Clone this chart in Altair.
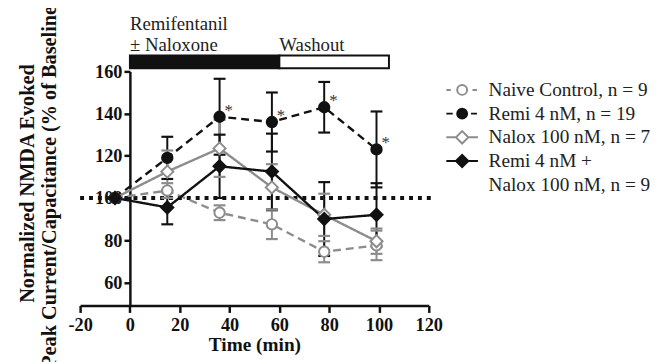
import altair as alt
import pandas as pd

# ---------------- data ----------------
series = ["Naive Control, n = 9", "Remi 4 nM, n = 19", "Nalox 100 nM, n = 7",
          "Remi 4 nM +|Nalox 100 nM, n = 9"]
times = [-6, 15, 36, 57, 78, 99]
naive_mean = [100, 103.5, 93, 87.5, 74.5, 77.5]
naive_sem = [0, 3.5, 3.5, 7, 5, 7]
remi_mean = [100, 119, 138.5, 136, 143, 123]
remi_sem = [0, 10, 18, 14, 12, 18]
nalox_mean = [100, 112.5, 123.5, 105, 92, 79.5]
nalox_sem = [0, 10, 13.5, 11, 10, 6]
rn_mean = [100, 95.5, 115, 112.5, 90, 92]
rn_sem = [0, 8, 15, 18, 17.5, 15]
signif_times = [36, 57, 78, 99]          # Remi points marked with *

phase_names = ["Remifentanil ± Naloxone", "Washout"]
phase_start = [0, 60]
phase_end = [60, 104]
phase_low = [161.5, 161.5]
phase_high = [167.5, 167.5]
header_lines = ["Remifentanil", "± Naloxone", "Washout"]
header_x = [0, 0, 60]
header_y = [179.5, 169.8, 169.8]
baseline_value = [100]
baseline_from = [-20]
baseline_to = [121]

x_ticks = [-20, 0, 20, 40, 60, 80, 100, 120]
y_ticks = [60, 80, 100, 120, 140, 160]

# ---------------- tables ----------------
means = [naive_mean, remi_mean, nalox_mean, rn_mean]
sems = [naive_sem, remi_sem, nalox_sem, rn_sem]
rows = []
for s, m, e in zip(series, means, sems):
    for t, mv, ev in zip(times, m, e):
        rows.append({"series": s, "t": t, "mean": mv, "lo": mv - ev, "hi": mv + ev})
df = pd.DataFrame(rows)
stars = df[(df["series"] == series[1]) & (df["t"].isin(signif_times))].copy()
stars["star"] = "*"
phases = pd.DataFrame({"phase": phase_names, "start": phase_start, "end": phase_end,
                       "low": phase_low, "high": phase_high})
header = pd.DataFrame({"text": header_lines, "t": header_x, "y": header_y})
base = pd.DataFrame({"x0": baseline_from, "x1": baseline_to, "y": baseline_value})

# ---------------- styles ----------------
GRAY = "#8c8c8c"
BLACK = "#111111"
STROKES = [GRAY, BLACK, GRAY, BLACK]
FILLS = ["white", BLACK, "white", BLACK]
DASHES = [[8, 5], [8, 5], [1, 0], [1, 0]]
SERIF = "Liberation Serif"

circ = "M-1,0A1,1,0,1,0,1,0A1,1,0,1,0,-1,0Z"
diam = "M-1.25,0L0,-1.25L1.25,0L0,1.25Z"
LEGEND_PATHS = [
    "M-3.2,0L-2.3,0M2.1,0L3,0" + circ,
    "M-3.2,0L-1.9,0M1.8,0L3,0" + circ,
    "M-3.2,0L-1.25,0M1.25,0L3.2,0" + diam,
    "M-3.2,0L-1.25,0M1.25,0L3.2,0" + diam,
]

xscale = alt.Scale(domain=[-20, 120], nice=False, zero=False)
yscale = alt.Scale(domain=[49, 160], nice=False, zero=False)
xaxis = alt.Axis(values=x_ticks, title="Time (min)", grid=False, offset=0,
                 labelExpr="toString(datum.value)",
                 labelFont=SERIF, labelFontWeight="bold", labelFontSize=18.5, labelColor=BLACK,
                 labelPadding=3, tickSize=7, tickWidth=2.5, tickColor=BLACK,
                 domainWidth=2.5, domainColor=BLACK, labelFlush=False,
                 titleFont=SERIF, titleFontWeight="bold", titleFontSize=19.5, titleColor=BLACK,
                 titlePadding=2)
yaxis = alt.Axis(values=y_ticks, grid=False, offset=-50.4,
                 title=["Normalized NMDA Evoked", "Peak Current/Capacitance (% of Baseline)"],
                 labelFont=SERIF, labelFontWeight="bold", labelFontSize=18.5, labelColor=BLACK,
                 labelPadding=2, tickSize=6, tickWidth=2.5, tickColor=BLACK,
                 domainWidth=2.5, domainColor=BLACK, labelFlush=False,
                 titleFont=SERIF, titleFontWeight="bold", titleFontSize=20.5, titleColor=BLACK,
                 titleLineHeight=23, titleBaseline="alphabetic", titleAngle=270,
                 titleX=-98, titleY=113, titleAlign="center")


def X(field):
    return alt.X(field, type="quantitative", scale=xscale, axis=xaxis)


def Y(field):
    return alt.Y(field, type="quantitative", scale=yscale, axis=yaxis)


def stroke_enc():
    return alt.Stroke("series:N", scale=alt.Scale(domain=series, range=STROKES), legend=None)


def fill_enc():
    return alt.Fill("series:N", scale=alt.Scale(domain=series, range=FILLS), legend=None)


# dotted 100% line
baseline = alt.Chart(base).mark_rule(color=BLACK, strokeWidth=4, strokeDash=[4, 5]).encode(
    x=X("x0"), x2="x1", y=Y("y"))

# error bars
err = alt.Chart(df).mark_rule(strokeWidth=2).encode(
    x=X("t"), y=Y("lo"), y2="hi", stroke=stroke_enc(), detail="series:N")
cap_lo = alt.Chart(df).mark_point(shape="stroke", size=144, strokeWidth=2.2, opacity=1).encode(
    x=X("t"), y=Y("lo"), stroke=stroke_enc())
cap_hi = alt.Chart(df).mark_point(shape="stroke", size=144, strokeWidth=2.2, opacity=1).encode(
    x=X("t"), y=Y("hi"), stroke=stroke_enc())

# lines
lines = alt.Chart(df).mark_line(strokeWidth=2.4).encode(
    x=X("t"), y=Y("mean"), stroke=stroke_enc(),
    strokeDash=alt.StrokeDash("series:N", scale=alt.Scale(domain=series, range=DASHES), legend=None),
    detail="series:N")

# markers
circles = alt.Chart(df).transform_filter(
    alt.FieldOneOfPredicate(field="series", oneOf=series[:2])
).mark_point(shape="circle", size=110, strokeWidth=2, opacity=1).encode(
    x=X("t"), y=Y("mean"), stroke=stroke_enc(), fill=fill_enc())
diamonds = alt.Chart(df).transform_filter(
    alt.FieldOneOfPredicate(field="series", oneOf=series[2:])
).mark_point(shape="diamond", size=150, strokeWidth=2, opacity=1).encode(
    x=X("t"), y=Y("mean"), stroke=stroke_enc(), fill=fill_enc())

# significance asterisks
star_layer = alt.Chart(stars).mark_text(
    align="left", baseline="alphabetic", dx=5, dy=-1, font=SERIF, fontSize=17, color="#333333"
).encode(x=X("t"), y=Y("mean"), text="star:N")

# treatment bar on top
bar = alt.Chart(phases).mark_rect(stroke=BLACK, strokeWidth=2).encode(
    x=X("start"), x2="end", y=Y("low"), y2="high",
    fill=alt.Fill("phase:N", scale=alt.Scale(domain=phase_names, range=[BLACK, "white"]), legend=None))
head = alt.Chart(header).mark_text(
    align="left", baseline="alphabetic", font=SERIF, fontSize=19, color="#222222"
).encode(x=X("t"), y=Y("y"), text="text:N")

# legend-only layer (no data drawn)
legend = alt.Legend(title=None, orient="none", legendX=377, legendY=9,
                    labelFont=SERIF, labelFontSize=19.5, labelColor="#222222",
                    labelExpr="split(datum.label, '|')", labelLimit=400,
                    symbolSize=100, symbolStrokeWidth=2, labelOffset=17,
                    rowPadding=3, padding=0)
legend_layer = alt.Chart(df).transform_filter("false").mark_point(
    size=100, strokeWidth=2, opacity=1
).encode(
    x=X("t"), y=Y("mean"),
    shape=alt.Shape("series:N", scale=alt.Scale(domain=series, range=LEGEND_PATHS), legend=legend),
    stroke=alt.Stroke("series:N", scale=alt.Scale(domain=series, range=STROKES), legend=legend),
    fill=alt.Fill("series:N", scale=alt.Scale(domain=series, range=FILLS), legend=legend),
)

chart = alt.layer(
    baseline, err, cap_lo, cap_hi, lines, circles, diamonds, star_layer, bar, head, legend_layer
).resolve_scale(
    stroke="independent", fill="independent", shape="independent", strokeDash="independent"
).properties(
    width=353, height=237,
    padding={"left": 73, "top": 62, "right": 230, "bottom": 55},
    autosize=alt.AutoSizeParams(type="none"),
    background="white",
).configure(style={"guide-label": {"lineHeight": 24}}).configure_view(stroke=None)

chart.save("out.html", embed_options={"renderer": "svg", "actions": False})
